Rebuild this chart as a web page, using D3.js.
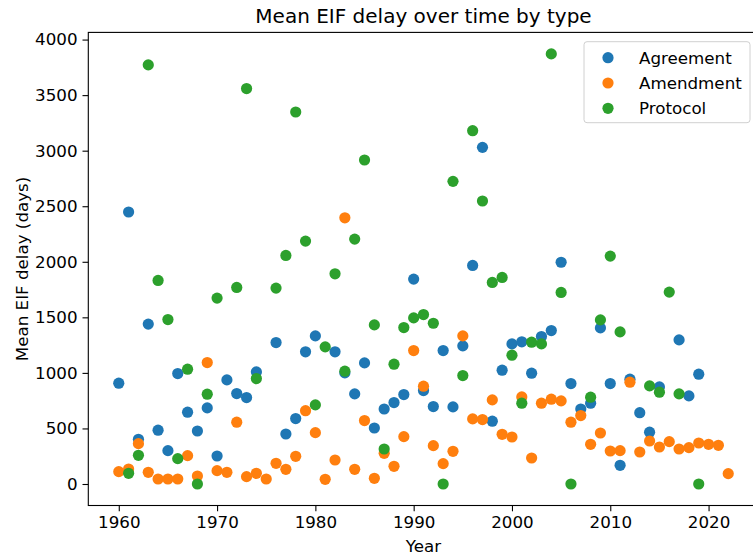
<!DOCTYPE html>
<html>
<head>
<meta charset="utf-8">
<script src="https://cdn.jsdelivr.net/npm/d3@7"></script>
<style>
  body { margin: 0; background: #fff; }
  svg { font-family: "DejaVu Sans", sans-serif; }
</style>
</head>
<body>
<svg id="chart" width="753" height="557"></svg>
<script>
// values
const agreementYears = [1960, 1961, 1962, 1963, 1964, 1965, 1966, 1967, 1968, 1969, 1970, 1971, 1972, 1973, 1974, 1976, 1977, 1978, 1979, 1980, 1982, 1983, 1984, 1985, 1986, 1987, 1988, 1989, 1990, 1991, 1992, 1993, 1994, 1995, 1996, 1997, 1998, 1999, 2000, 2001, 2002, 2003, 2004, 2005, 2006, 2007, 2008, 2009, 2010, 2011, 2012, 2013, 2014, 2015, 2017, 2018, 2019];
const agreementDelay = [907, 2448, 402, 1439, 484, 300, 994, 646, 477, 685, 252, 937, 814, 778, 1009, 1273, 450, 589, 1190, 1333, 1190, 1000, 811, 1090, 504, 675, 733, 805, 1844, 841, 697, 1201, 694, 1243, 1967, 3030, 565, 1024, 1261, 1280, 997, 1327, 1381, 1996, 904, 675, 727, 1405, 904, 168, 943, 642, 466, 874, 1297, 793, 988];

const amendmentYears = [1960, 1961, 1962, 1963, 1964, 1965, 1966, 1967, 1968, 1969, 1970, 1971, 1972, 1973, 1974, 1975, 1976, 1977, 1978, 1979, 1980, 1981, 1982, 1983, 1984, 1985, 1986, 1987, 1988, 1989, 1990, 1991, 1992, 1993, 1994, 1995, 1996, 1997, 1998, 1999, 2000, 2001, 2002, 2003, 2004, 2005, 2006, 2007, 2008, 2009, 2010, 2011, 2012, 2013, 2014, 2015, 2016, 2017, 2018, 2019, 2020, 2021, 2022];
const amendmentDelay = [111, 135, 363, 105, 45, 45, 45, 255, 72, 1093, 120, 105, 556, 66, 96, 45, 186, 132, 249, 660, 462, 42, 216, 2396, 132, 571, 51, 276, 159, 426, 1201, 880, 345, 183, 294, 1333, 586, 580, 757, 447, 423, 784, 234, 727, 763, 748, 556, 616, 357, 459, 297, 300, 916, 288, 387, 333, 381, 315, 327, 369, 357, 348, 93];

const protocolYears = [1961, 1962, 1963, 1964, 1965, 1966, 1967, 1968, 1969, 1970, 1972, 1973, 1974, 1976, 1977, 1978, 1979, 1980, 1981, 1982, 1983, 1984, 1985, 1986, 1987, 1988, 1989, 1990, 1991, 1992, 1993, 1994, 1995, 1996, 1997, 1998, 1999, 2000, 2001, 2002, 2003, 2004, 2005, 2006, 2008, 2009, 2010, 2011, 2014, 2015, 2016, 2017, 2019];
const protocolDelay = [96, 258, 3772, 1832, 1480, 228, 1033, 0, 808, 1673, 1769, 3559, 949, 1763, 2057, 3348, 2186, 712, 1234, 1892, 1015, 2204, 2916, 1432, 315, 1078, 1408, 1495, 1525, 1447, 0, 2724, 976, 3180, 2547, 1814, 1859, 1159, 727, 1276, 1261, 3871, 1724, 0, 781, 1477, 2051, 1369, 883, 826, 1727, 811, 0];

const typeNames = ["Agreement", "Amendment", "Protocol"];
const typeColors = ["#1f77b4", "#ff7f0e", "#2ca02c"];
const xTicks = [1960, 1970, 1980, 1990, 2000, 2010, 2020];
const yTicks = [0, 500, 1000, 1500, 2000, 2500, 3000, 3500, 4000];

const series = [
  { name: typeNames[0], color: typeColors[0], years: agreementYears, values: agreementDelay },
  { name: typeNames[1], color: typeColors[1], years: amendmentYears, values: amendmentDelay },
  { name: typeNames[2], color: typeColors[2], years: protocolYears, values: protocolDelay }
].map(s => ({ ...s, points: s.years.map((y, i) => ({ year: y, delay: s.values[i] })) }));

const plot = { left: 88.3, right: 758.7, top: 32.4, bottom: 505.5 };
const tickFont = "16.7px";

const svg = d3.select("#chart");

// matplotlib style 5% padding on the data range
const allYears = series.flatMap(s => s.years);
const allDelay = series.flatMap(s => s.values);
const [x0, x1] = d3.extent(allYears);
const [y0, y1] = d3.extent(allDelay);
const xPad = (x1 - x0) * 0.05, yPad = (y1 - y0) * 0.05;

const xScale = d3.scaleLinear()
  .domain([x0 - xPad, x1 + xPad])
  .range([plot.left, plot.right]);

const yScale = d3.scaleLinear()
  .domain([y0 - yPad, y1 + yPad])
  .range([plot.bottom, plot.top]);

const xAxis = svg.append("g")
  .attr("transform", `translate(0,${plot.bottom})`)
  .call(d3.axisBottom(xScale).tickValues(xTicks).tickFormat(d3.format("d")).tickSize(5.8).tickPadding(5).tickSizeOuter(0));

const yAxis = svg.append("g")
  .attr("transform", `translate(${plot.left},0)`)
  .call(d3.axisLeft(yScale).tickValues(yTicks).tickFormat(d3.format("d")).tickSize(5.8).tickPadding(5).tickSizeOuter(0));

[xAxis, yAxis].forEach(ax => {
  ax.select(".domain").remove();
  ax.selectAll(".tick line").attr("stroke", "#000").attr("stroke-width", 1.1);
  ax.selectAll(".tick text")
    .attr("fill", "#000")
    .style("font-family", "DejaVu Sans")
    .style("font-size", tickFont);
});

// frame (right spine falls just outside the picture)
svg.append("rect")
  .attr("x", plot.left)
  .attr("y", plot.top)
  .attr("width", plot.right - plot.left)
  .attr("height", plot.bottom - plot.top)
  .attr("fill", "none")
  .attr("stroke", "#000")
  .attr("stroke-width", 1.1);

series.forEach(s => {
  svg.append("g")
    .selectAll("circle")
    .data(s.points)
    .join("circle")
    .attr("cx", d => xScale(d.year))
    .attr("cy", d => yScale(d.delay))
    .attr("r", 5.6)
    .attr("fill", s.color);
});

svg.append("text")
  .attr("x", (plot.left + plot.right) / 2)
  .attr("y", 22.5)
  .attr("text-anchor", "middle")
  .style("font-size", "20px")
  .text("Mean EIF delay over time by type");

svg.append("text")
  .attr("x", (plot.left + plot.right) / 2)
  .attr("y", 552)
  .attr("text-anchor", "middle")
  .style("font-size", tickFont)
  .text("Year");

svg.append("text")
  .attr("transform", `translate(27.5,${(plot.top + plot.bottom) / 2}) rotate(-90)`)
  .attr("text-anchor", "middle")
  .style("font-size", tickFont)
  .text("Mean EIF delay (days)");

// legend
const legend = svg.append("g").attr("transform", "translate(584,41.7)");
legend.append("rect")
  .attr("width", 166)
  .attr("height", 81)
  .attr("rx", 3)
  .attr("fill", "#fff")
  .attr("fill-opacity", 0.8)
  .attr("stroke", "#d0d0d0");

const rows = legend.selectAll("g.row")
  .data(series)
  .join("g")
  .attr("class", "row")
  .attr("transform", (d, i) => `translate(0,${16 + i * 25.3})`);

rows.append("circle")
  .attr("cx", 24)
  .attr("cy", 0)
  .attr("r", 5.6)
  .attr("fill", d => d.color);

rows.append("text")
  .attr("x", 55)
  .attr("y", 6)
  .style("font-size", tickFont)
  .text(d => d.name);
</script>
</body>
</html>
